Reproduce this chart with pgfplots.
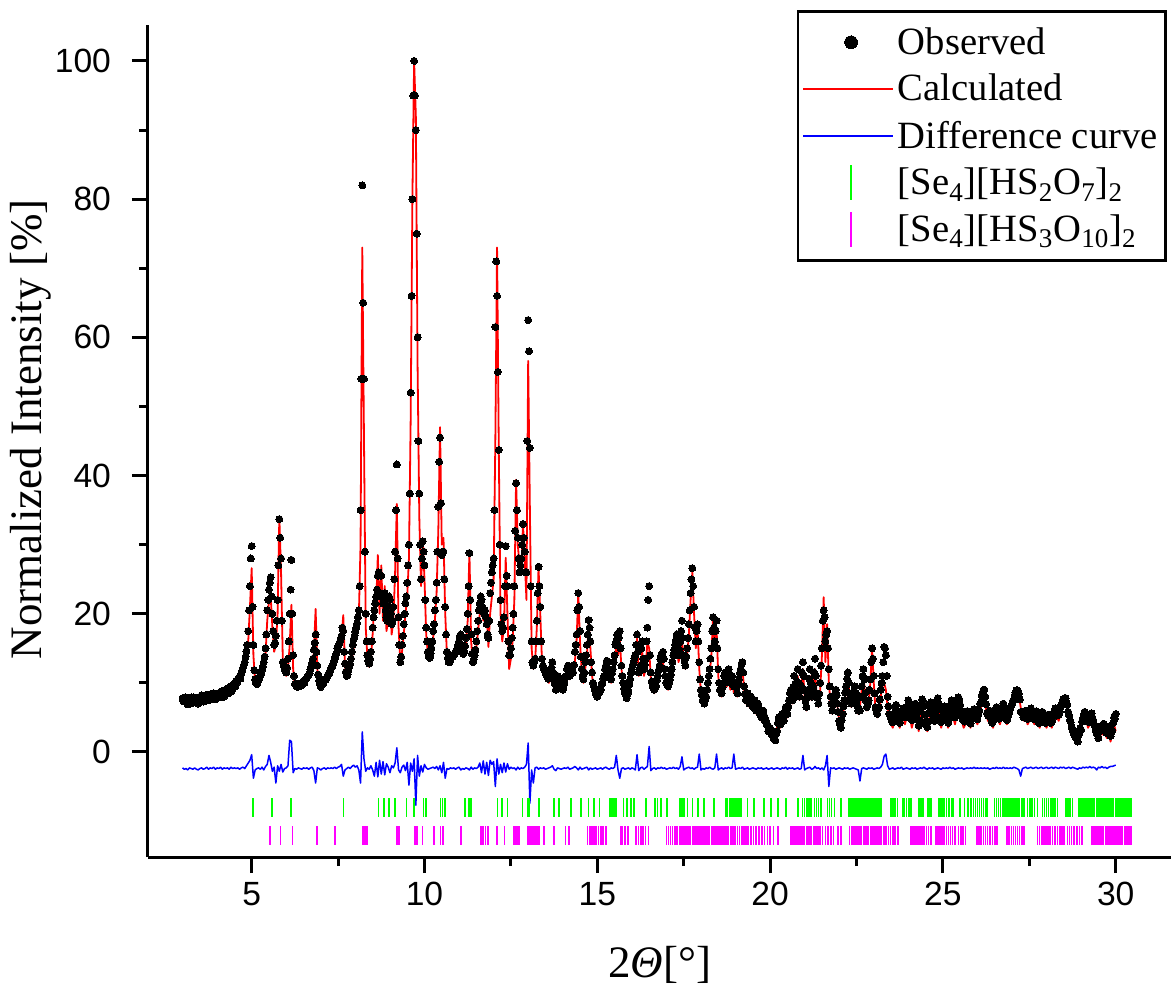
\documentclass[border=0pt]{standalone}
\usepackage{fontspec}
\setmainfont{Liberation Serif}
\newfontfamily\arialfont{Liberation Sans}
\usepackage{pgfplots}
\usepackage{pgfplotstable}
\pgfplotsset{compat=1.18}
\definecolor{phasegreen}{RGB}{0,255,0}
\definecolor{phasemag}{RGB}{255,0,255}

\pgfplotsset{
  dotlegend/.style={legend image code/.code={\draw[mark repeat=2, mark phase=2, ##1, mark size=3.2pt] plot coordinates {(0pt,0pt) (24pt,0pt) (48pt,0pt)};}},
  linelegend/.style={legend image code/.code={\draw[##1] (0pt,0pt) -- (45pt,0pt);}},
  barlegend/.style={legend image code/.code={\draw[mark repeat=2, mark phase=2, ##1, mark size=8.75pt] plot coordinates {(0pt,0pt) (24pt,0pt) (48pt,0pt)};}},
  obsdots/.style={only marks, mark=*, mark size=1.75pt, mark options={draw=black, fill=black, line width=0pt}},
}

% x = 2theta, c = calculated, o = observed, d = difference (offset)
\pgfplotstableread{
x c o d
3.00 7.0 7.8 -2.3
3.05 7.0 7.3 -2.5
3.10 7.1 7.7 -2.4
3.15 7.1 6.9 -2.6
3.20 7.2 7.6 -2.3
3.25 7.2 7.9 -2.4
3.30 7.3 7.1 -2.5
3.35 7.3 7.8 -2.3
3.40 7.4 7.5 -2.5
3.45 7.4 7.0 -2.6
3.50 7.5 7.9 -2.4
3.55 7.5 8.2 -2.3
3.60 7.6 7.3 -2.5
3.65 7.6 7.9 -2.4
3.70 7.7 8.3 -2.2
3.75 7.7 7.5 -2.5
3.80 7.8 8.2 -2.3
3.85 7.8 7.8 -2.4
3.90 7.9 8.5 -2.2
3.95 7.9 7.6 -2.5
4.00 8.0 8.4 -2.3
4.05 8.0 8.0 -2.4
4.10 8.0 8.7 -2.2
4.15 8.1 7.9 -2.5
4.20 8.2 8.9 -2.3
4.25 8.3 8.4 -2.4
4.30 8.5 9.2 -2.3
4.35 8.7 8.5 -2.5
4.40 8.9 9.5 -2.2
4.45 9.1 9.2 -2.4
4.50 9.4 9.9 -2.3
4.55 9.7 10.3 -2.4
4.60 10.0 10.5 -2.3
4.65 10.4 10.9 -2.5
4.70 10.9 11.4 -2.3
4.75 11.5 12.2 -2.2
4.80 12.3 13.0 -2.4
4.85 13.5 14.6 -2.0
4.90 16.0 17.5 -1.6
4.95 21.0 24.0 -1.2
5.00 26.6 29.8 -0.4
5.05 14.0 15.5 -3.8
5.10 10.0 10.5 -2.6
5.15 9.4 9.8 -2.4
5.20 9.8 10.4 -2.3
5.25 10.4 11.0 -2.5
5.30 11.2 11.9 -2.2
5.35 12.2 13.0 -2.6
5.40 14.0 15.0 -2.1
5.45 19.0 20.5 -1.8
5.50 21.8 23.5 -0.5
5.55 22.5 25.3 -1.5
5.60 18.0 20.0 -2.8
5.65 14.5 15.5 -2.2
5.70 15.5 16.8 -4.5
5.75 20.0 22.0 -2.0
5.80 34.0 33.7 -2.8
5.85 26.0 28.0 -1.8
5.90 13.5 13.0 -2.9
5.95 11.5 12.0 -2.4
6.00 11.0 11.5 -2.3
6.05 12.0 13.5 -2.0
6.10 15.5 20.0 1.7
6.15 21.3 27.8 1.5
6.20 12.0 14.0 -3.0
6.25 9.5 9.8 -2.4
6.30 9.3 9.5 -2.5
6.35 9.3 9.8 -2.3
6.40 9.4 9.9 -2.4
6.45 9.5 9.7 -2.5
6.50 9.7 10.3 -2.3
6.55 9.9 10.4 -2.4
6.60 10.2 10.8 -2.3
6.65 10.6 11.1 -2.5
6.70 11.2 11.9 -2.3
6.75 12.0 12.9 -2.2
6.80 14.5 14.8 -2.7
6.85 20.7 17.0 -4.5
6.90 12.0 12.5 -2.3
6.95 10.0 10.3 -2.4
7.00 9.6 9.4 -2.6
7.05 9.7 9.9 -2.4
7.10 9.9 10.4 -2.3
7.15 10.2 10.5 -2.5
7.20 10.6 11.1 -2.3
7.25 11.0 11.4 -2.4
7.30 11.5 12.1 -2.3
7.35 12.2 12.7 -2.4
7.40 12.8 13.6 -2.2
7.45 13.5 14.2 -2.4
7.50 14.5 15.3 -2.2
7.55 15.0 15.9 -2.1
7.60 16.5 16.8 -1.8
7.65 19.8 17.5 -3.5
7.70 12.5 12.8 -2.6
7.75 10.6 11.0 -2.4
7.80 11.0 11.8 -2.2
7.85 12.0 12.7 -2.4
7.90 13.5 14.5 -2.1
7.95 15.0 16.3 -1.9
8.00 16.5 17.4 -2.2
8.05 17.8 18.6 -2.0
8.10 19.5 20.5 -2.6
8.15 30.0 35.0 -4.5
8.20 73.0 82.0 2.9
8.25 45.0 54.0 -1.0
8.30 18.0 20.0 -2.8
8.35 13.5 14.0 -2.3
8.40 12.3 12.8 -2.5
8.45 13.5 14.5 -2.0
8.50 17.0 18.0 -2.6
8.55 22.0 20.5 -3.5
8.60 21.0 22.5 -1.5
8.65 28.5 25.5 -3.6
8.70 20.0 22.5 -1.2
8.75 27.0 25.5 -3.2
8.80 19.0 21.5 -1.4
8.85 24.0 23.0 -3.3
8.90 17.5 19.5 -1.7
8.95 19.0 21.0 -2.2
9.00 22.5 22.0 -3.0
9.05 17.0 18.5 -2.0
9.10 19.0 21.0 -2.3
9.15 26.0 29.0 -1.6
9.20 35.9 41.6 0.6
9.25 18.0 19.5 -2.6
9.30 13.2 13.0 -3.0
9.35 14.5 15.5 -2.2
9.40 17.0 18.5 -1.9
9.45 20.0 21.5 -2.7
9.50 22.5 24.5 -1.5
9.55 28.0 30.0 -4.8
9.60 48.0 52.0 -1.6
9.65 80.0 80.0 -2.8
9.70 100.0 100.0 -1.0
9.75 92.0 90.0 -7.7
9.80 56.0 60.0 -0.5
9.85 34.0 37.4 -3.5
9.90 24.0 25.0 -2.0
9.95 30.8 30.5 -2.9
10.00 25.0 27.0 -1.8
10.05 17.0 18.0 -2.3
10.10 14.0 14.5 -2.5
10.15 13.4 13.6 -2.4
10.20 14.5 15.0 -2.3
10.25 16.5 17.5 -2.2
10.30 19.0 20.5 -2.4
10.35 23.0 24.5 -2.1
10.40 32.0 35.5 -2.6
10.45 47.0 45.5 -2.0
10.50 30.0 28.5 -3.0
10.55 31.0 29.0 -1.5
10.60 20.0 21.0 -3.8
10.65 14.0 14.5 -2.4
10.70 13.2 13.0 -2.5
10.75 13.0 13.3 -2.3
10.80 13.2 13.8 -2.4
10.85 13.5 14.0 -2.3
10.90 13.8 14.5 -2.5
10.95 14.5 15.0 -2.3
11.00 15.5 16.0 -2.2
11.05 16.7 17.0 -2.6
11.10 14.0 14.8 -2.4
11.15 14.0 14.5 -2.5
11.20 15.5 16.5 -2.3
11.25 19.0 20.0 -2.4
11.30 28.9 28.8 -2.6
11.35 16.0 17.0 -2.2
11.40 12.8 13.0 -2.5
11.45 13.5 14.0 -2.3
11.50 15.0 16.0 -2.4
11.55 17.5 19.0 -2.2
11.60 20.0 21.5 -1.6
11.65 22.9 22.0 -3.0
11.70 19.0 20.5 -1.3
11.75 21.0 20.5 -3.2
11.80 19.7 18.5 -1.5
11.85 15.2 16.5 -3.4
11.90 20.0 23.0 -1.2
11.95 22.5 26.0 -1.8
12.00 25.0 28.0 -1.4
12.05 45.0 61.5 -5.0
12.10 73.0 66.0 -1.0
12.15 43.7 43.7 -3.2
12.20 20.0 22.0 -1.8
12.25 16.0 17.5 -3.0
12.30 18.0 19.5 -1.6
12.35 28.1 29.8 -2.9
12.40 20.0 24.0 -1.7
12.45 12.0 14.0 -2.5
12.50 13.5 15.0 -2.2
12.55 16.0 18.0 -2.4
12.60 22.0 24.0 -2.3
12.65 39.4 38.9 -2.6
12.70 30.0 31.0 -2.2
12.75 27.0 26.0 -2.5
12.80 26.0 28.0 -2.3
12.85 33.0 33.0 -2.4
12.90 28.0 29.0 -2.2
12.95 22.0 26.0 -1.8
13.00 56.6 62.5 1.3
13.05 35.0 44.0 -7.4
13.10 15.0 16.0 -2.6
13.15 12.0 12.5 -4.5
13.20 13.0 13.5 -2.3
13.25 18.0 19.0 -2.2
13.30 26.7 26.8 -2.5
13.35 20.0 21.0 -2.3
13.40 13.0 13.5 -2.4
13.45 11.5 12.0 -2.3
13.50 11.0 11.5 -2.5
13.55 10.5 11.0 -2.4
13.60 10.0 10.8 -2.3
13.65 10.5 11.3 -2.2
13.70 11.2 13.0 -2.0
13.75 9.8 10.5 -2.5
13.80 9.5 9.0 -2.7
13.85 10.5 11.0 -2.3
13.90 9.5 10.0 -2.4
13.95 9.0 9.3 -2.5
14.00 8.8 9.0 -2.4
14.05 9.5 10.0 -2.3
14.10 10.5 11.0 -2.4
14.15 11.5 12.5 -2.2
14.20 10.5 11.0 -2.5
14.25 11.8 12.0 -2.4
14.30 11.0 11.5 -2.3
14.35 13.0 14.5 -2.1
14.40 16.0 17.0 -2.3
14.45 23.0 23.0 -2.6
14.50 16.0 17.5 -2.2
14.55 11.5 12.0 -2.5
14.60 10.0 10.5 -2.4
14.65 12.0 13.0 -2.3
14.70 14.0 15.5 -2.2
14.75 19.0 19.1 -2.6
14.80 15.0 16.0 -2.3
14.85 11.0 11.5 -2.5
14.90 9.0 9.5 -2.4
14.95 8.2 8.5 -2.3
15.00 8.0 8.0 -2.5
15.05 8.3 8.5 -2.4
15.10 8.8 9.0 -2.3
15.15 9.5 10.0 -2.5
15.20 10.5 11.0 -2.3
15.25 11.5 12.5 -2.2
15.30 12.5 13.0 -2.4
15.35 11.0 11.5 -2.5
15.40 10.0 10.5 -2.3
15.45 11.0 12.0 -2.4
15.50 13.0 14.0 -2.2
15.55 15.5 16.0 -0.5
15.60 14.0 15.5 -2.6
15.65 16.5 17.5 -3.8
15.70 12.0 12.5 -2.4
15.75 9.5 10.0 -2.3
15.80 8.5 8.5 -2.5
15.85 8.0 7.8 -2.4
15.90 8.5 8.8 -2.3
15.95 10.0 10.5 -2.5
16.00 11.5 12.0 -2.3
16.05 12.5 13.0 -2.4
16.10 13.0 14.0 -2.6
16.15 16.4 17.0 -0.4
16.20 11.0 11.5 -2.7
16.25 12.0 12.5 -2.3
16.30 14.5 16.0 -2.2
16.35 11.0 12.0 -2.5
16.40 12.0 13.5 -2.3
16.45 16.0 18.0 -2.1
16.50 15.0 24.0 0.8
16.55 10.5 11.5 -2.7
16.60 9.0 9.5 -2.4
16.65 8.5 9.0 -2.3
16.70 9.0 9.5 -2.5
16.75 10.0 11.0 -2.3
16.80 11.5 12.5 -2.4
16.85 12.5 14.0 -2.2
16.90 13.0 14.5 -2.4
16.95 11.0 12.0 -2.3
17.00 9.5 10.0 -2.5
17.05 9.0 9.5 -2.4
17.10 9.5 10.5 -2.3
17.15 11.0 12.0 -2.4
17.20 13.0 14.0 -2.2
17.25 14.5 15.5 -2.4
17.30 16.0 17.0 -2.3
17.35 13.0 14.0 -2.5
17.40 14.0 16.0 -2.1
17.45 16.5 19.0 -0.7
17.50 13.0 14.0 -2.6
17.55 12.0 12.5 -2.4
17.60 14.0 15.0 -2.3
17.65 17.0 18.5 -2.2
17.70 22.0 23.0 -2.4
17.75 26.0 26.6 -2.3
17.80 20.0 21.0 -2.5
17.85 15.0 16.0 -2.3
17.90 18.0 18.5 -2.2
17.95 12.0 13.0 -0.3
18.00 8.5 9.0 -2.6
18.05 7.5 7.5 -2.4
18.10 7.0 7.0 -2.5
18.15 7.5 8.0 -2.3
18.20 9.0 10.0 -2.4
18.25 11.0 12.0 -2.2
18.30 14.0 15.0 -2.4
18.35 19.5 19.5 -2.5
18.40 15.0 16.0 -2.3
18.45 18.0 19.0 -0.3
18.50 11.0 12.0 -2.6
18.55 8.5 9.0 -2.4
18.60 8.0 8.5 -2.3
18.65 9.0 10.0 -2.5
18.70 10.5 11.5 -2.3
18.75 9.5 10.5 -2.4
18.80 11.0 12.0 -2.2
18.85 9.0 10.0 -2.4
18.90 10.5 11.0 -2.3
18.95 8.5 9.5 -0.3
19.00 9.5 10.0 -2.5
19.05 8.0 8.5 -2.4
19.10 9.5 10.5 -2.3
19.15 11.0 12.0 -2.4
19.20 12.0 13.0 -2.2
19.25 9.0 9.5 -2.5
19.30 7.0 7.5 -2.4
19.35 8.0 8.5 -2.3
19.40 6.5 7.0 -2.5
19.45 7.5 8.0 -2.4
19.50 6.0 6.5 -2.3
19.55 7.0 7.5 -2.4
19.60 5.5 6.0 -2.5
19.65 6.5 7.0 -2.3
19.70 5.0 5.5 -2.4
19.75 4.5 5.0 -2.3
19.80 5.5 6.0 -2.5
19.85 4.0 4.5 -2.4
19.90 4.5 4.0 -2.3
19.95 3.5 3.0 -2.5
20.00 3.0 3.5 -2.4
20.05 2.5 2.5 -2.3
20.10 2.8 2.0 -2.5
20.15 2.3 1.7 -2.4
20.20 3.5 3.0 -2.3
20.25 4.5 5.0 -2.4
20.30 3.5 4.0 -2.5
20.35 5.0 5.5 -2.3
20.40 4.5 4.5 -2.4
20.45 6.0 6.5 -2.2
20.50 5.0 5.5 -2.5
20.55 7.0 7.5 -2.3
20.60 8.5 9.0 -2.4
20.65 7.0 7.5 -2.3
20.70 10.0 11.0 -2.5
20.75 8.0 8.5 -2.4
20.80 11.0 12.0 -2.3
20.85 7.5 8.0 -2.5
20.90 9.0 9.5 -2.4
20.95 12.0 13.0 -0.5
21.00 8.0 9.0 -2.6
21.05 6.0 6.5 -2.4
21.10 8.5 9.0 -2.3
21.15 11.0 12.0 -2.2
21.20 7.5 8.0 -2.5
21.25 9.0 9.5 -2.4
21.30 12.0 13.5 -2.1
21.35 8.0 8.5 -2.4
21.40 6.5 7.0 -2.3
21.45 9.0 10.0 -2.5
21.50 14.0 15.0 -2.3
21.55 22.4 20.5 -2.6
21.60 13.0 16.0 -2.0
21.65 18.5 17.5 -0.5
21.70 10.0 12.0 -5.0
21.75 7.0 8.0 -2.3
21.80 5.5 6.0 -2.4
21.85 7.0 7.5 -2.3
21.90 8.5 9.0 -2.5
21.95 6.5 7.0 -2.4
22.00 4.5 4.5 -2.3
22.05 3.5 3.5 -2.4
22.10 5.0 5.5 -2.5
22.15 7.0 7.5 -2.3
22.20 9.0 9.5 -2.4
22.25 11.0 11.5 -2.3
22.30 8.0 8.5 -2.5
22.35 6.5 7.0 -2.4
22.40 7.5 8.0 -2.3
22.45 9.0 9.5 -2.4
22.50 7.0 7.5 -2.5
22.55 5.5 6.0 -2.6
22.60 6.5 6.0 -4.2
22.65 9.0 9.5 -2.4
22.70 11.5 12.0 -2.3
22.75 8.0 8.5 -2.4
22.80 6.0 6.5 -2.5
22.85 7.0 7.5 -2.3
22.90 10.0 10.5 -2.4
22.95 15.0 15.0 -2.3
23.00 10.0 11.0 -2.5
23.05 6.0 6.5 -2.4
23.10 5.0 5.5 -2.3
23.15 6.0 6.5 -2.4
23.20 8.0 9.0 -2.2
23.25 9.5 11.0 -1.8
23.30 10.0 15.2 -0.6
23.35 9.0 14.0 -0.3
23.40 6.5 8.0 -2.0
23.45 5.0 5.5 -2.5
23.50 4.0 4.8 -2.4
23.55 3.5 4.3 -2.3
23.60 4.5 5.6 -2.5
23.65 6.0 6.8 -2.4
23.70 4.5 5.5 -2.3
23.75 3.5 4.2 -2.4
23.80 4.5 5.6 -2.2
23.85 5.5 6.3 -2.5
23.90 4.0 5.0 -2.4
23.95 5.0 5.4 -2.3
24.00 6.5 7.5 -2.4
24.05 5.0 5.8 -2.5
24.10 3.5 4.6 -2.3
24.15 4.5 5.1 -2.4
24.20 6.0 7.0 -2.3
24.25 4.5 5.6 -2.5
24.30 3.0 3.8 -2.4
24.35 5.0 6.0 -2.3
24.40 7.0 7.6 -2.4
24.45 5.5 6.6 -2.2
24.50 3.5 4.4 -2.4
24.55 3.0 3.6 -2.5
24.60 4.5 5.6 -2.3
24.65 6.5 7.2 -2.4
24.70 5.0 6.0 -2.3
24.75 4.0 4.5 -2.5
24.80 5.5 6.5 -2.4
24.85 7.0 7.8 -2.3
24.90 5.0 6.2 -2.4
24.95 3.5 4.3 -2.5
25.00 4.5 5.4 -2.3
25.05 6.0 6.6 -2.4
25.10 4.5 5.7 -2.3
25.15 3.5 4.2 -2.4
25.20 5.0 5.8 -2.2
25.25 6.5 7.5 -2.4
25.30 5.0 5.6 -2.3
25.35 4.0 5.0 -2.5
25.40 5.5 6.1 -2.4
25.45 7.0 7.9 -2.3
25.50 6.0 6.8 -2.4
25.55 4.5 5.3 -2.3
25.60 3.5 4.5 -2.5
25.65 4.0 4.6 -2.4
25.70 5.0 5.9 -2.3
25.75 4.0 4.8 -2.4
25.80 3.5 4.1 -2.3
25.85 4.5 5.5 -2.4
25.90 5.5 6.2 -2.2
25.95 4.5 5.4 -2.4
26.00 4.0 4.7 -2.3
26.05 5.0 6.0 -2.4
26.10 6.5 7.2 -2.3
26.15 8.0 8.6 -2.4
26.20 8.5 9.0 -2.3
26.25 6.0 6.9 -2.4
26.30 4.5 5.3 -2.3
26.35 5.0 6.0 -2.5
26.40 4.0 4.8 -2.4
26.45 3.5 4.4 -2.3
26.50 4.5 5.2 -2.4
26.55 5.5 6.5 -2.2
26.60 4.5 5.3 -2.4
26.65 4.0 5.0 -2.3
26.70 5.0 5.6 -2.4
26.75 6.0 7.0 -2.2
26.80 5.0 5.9 -2.4
26.85 4.0 4.6 -2.3
26.90 4.5 5.5 -2.4
26.95 5.5 6.3 -2.3
27.00 6.0 6.9 -2.4
27.05 7.0 7.6 -2.2
27.10 8.0 8.6 -2.3
27.15 8.5 8.9 -2.4
27.20 8.0 8.4 -2.6
27.25 6.5 5.8 -3.5
27.30 5.0 5.8 -2.4
27.35 4.5 5.2 -2.3
27.40 5.0 6.0 -2.2
27.45 4.0 4.8 -2.4
27.50 4.5 5.5 -2.3
27.55 5.5 6.3 -2.2
27.60 4.5 5.4 -2.4
27.65 4.0 4.7 -2.3
27.70 5.0 5.9 -2.2
27.75 4.0 4.9 -2.4
27.80 3.5 4.2 -2.3
27.85 4.5 5.5 -2.2
27.90 5.0 5.7 -2.4
27.95 4.0 5.0 -2.3
28.00 3.5 4.3 -2.2
28.05 4.5 5.4 -2.4
28.10 4.0 4.6 -2.3
28.15 3.5 4.4 -2.2
28.20 4.5 5.3 -2.4
28.25 5.5 6.3 -2.2
28.30 5.0 5.8 -2.3
28.35 4.5 5.4 -2.4
28.40 5.5 6.4 -2.2
28.45 6.5 7.1 -2.3
28.50 7.0 7.4 -2.2
28.55 7.5 7.8 -2.4
28.60 6.0 6.8 -2.3
28.65 4.5 5.3 -2.2
28.70 3.5 4.3 -2.4
28.75 2.5 3.3 -2.2
28.80 2.0 2.7 -2.3
28.85 1.5 2.2 -2.4
28.90 1.8 1.5 -2.5
28.95 2.5 2.8 -2.3
29.00 3.5 3.2 -2.4
29.05 4.5 4.9 -2.2
29.10 5.0 5.8 -2.3
29.15 4.5 5.2 -2.2
29.20 3.5 4.4 -2.3
29.25 4.0 4.8 -2.1
29.30 5.0 5.6 -2.3
29.35 4.0 4.6 -2.2
29.40 3.0 3.7 -2.3
29.45 2.0 2.6 -2.6
29.50 2.5 2.0 -2.2
29.55 3.0 3.7 -2.3
29.60 2.5 3.2 -2.1
29.65 3.5 4.1 -2.3
29.70 2.5 3.3 -2.2
29.75 2.0 2.7 -2.4
29.80 3.0 3.6 -2.2
29.85 1.5 2.3 -2.1
29.90 2.5 3.1 -2.1
29.95 4.0 5.0 -2.0
30.00 3.0 5.5 -1.9
}\xrddata

% observed points measured between the rows above
\pgfplotstableread{
x o
3.025 7.4
3.075 7.9
3.125 7.2
3.175 7.7
3.225 7.0
3.275 7.6
3.325 7.9
3.375 7.2
3.425 7.8
3.475 7.5
3.525 7.3
3.575 7.9
3.625 7.7
3.675 7.4
3.725 8.0
3.775 7.8
3.825 8.4
3.875 7.6
3.925 8.1
3.975 8.3
4.025 7.9
4.075 8.5
4.125 8.2
4.175 8.6
4.225 8.1
4.275 8.8
4.325 8.9
4.375 9.1
4.425 8.8
4.475 9.6
4.525 9.5
4.575 10.0
4.625 10.7
4.675 10.6
4.725 11.8
4.775 12.6
4.825 13.8
4.875 15.5
4.925 20.5
4.975 28.0
5.025 21.0
5.075 11.8
5.125 10.0
5.175 10.1
5.225 10.7
5.275 11.3
5.325 12.4
5.375 13.8
5.425 17.0
5.475 22.0
5.525 24.5
5.575 22.5
5.625 17.5
5.675 15.8
5.725 19.0
5.775 27.0
5.825 31.0
5.875 19.0
5.925 12.5
5.975 11.8
6.025 12.2
6.075 16.0
6.125 23.5
6.175 20.0
6.225 11.0
6.275 9.9
6.325 9.4
6.375 9.9
6.425 9.6
6.475 10.1
6.525 10.0
6.575 10.6
6.625 11.0
6.675 11.4
6.725 12.3
6.775 13.5
6.825 15.8
6.875 14.5
6.925 11.2
6.975 9.8
7.025 9.9
7.075 10.0
7.125 10.5
7.175 10.8
7.225 11.3
7.275 11.8
7.325 12.3
7.375 13.1
7.425 13.8
7.475 15.0
7.525 15.5
7.575 16.4
7.625 18.0
7.675 14.5
7.725 11.6
7.775 11.2
7.825 12.3
7.875 13.5
7.925 15.5
7.975 16.8
8.025 18.0
8.075 19.5
8.125 24.0
8.175 54.0
8.225 65.0
8.275 29.0
8.325 16.0
8.375 13.2
8.425 13.5
8.475 16.0
8.525 19.5
8.575 21.5
8.625 23.5
8.675 26.0
8.725 23.0
8.775 22.5
8.825 22.0
8.875 20.5
8.925 19.0
8.975 22.5
9.025 20.0
9.075 19.0
9.125 25.0
9.175 35.0
9.225 28.0
9.275 15.5
9.325 13.8
9.375 16.8
9.425 20.0
9.475 22.5
9.525 27.0
9.575 37.4
9.625 66.0
9.675 95.0
9.725 95.0
9.775 75.0
9.825 45.0
9.875 30.0
9.925 28.0
9.975 29.0
10.025 22.0
10.075 16.0
10.125 13.8
10.175 14.2
10.225 16.0
10.275 18.5
10.325 22.0
10.375 29.0
10.425 42.0
10.475 36.0
10.525 29.0
10.575 25.0
10.625 17.0
10.675 13.6
10.725 13.0
10.775 13.6
10.825 13.8
10.875 14.3
10.925 14.6
10.975 15.5
11.025 16.8
11.075 15.5
11.125 14.2
11.175 15.3
11.225 17.8
11.275 24.0
11.325 22.0
11.375 14.2
11.425 13.4
11.475 14.8
11.525 17.5
11.575 20.5
11.625 22.5
11.675 21.0
11.725 20.0
11.775 19.5
11.825 17.0
11.875 19.0
11.925 24.5
11.975 27.0
12.025 35.0
12.075 71.0
12.125 55.0
12.175 30.0
12.225 18.5
12.275 18.0
12.325 24.0
12.375 25.5
12.425 16.0
12.475 14.0
12.525 16.5
12.575 20.0
12.625 32.0
12.675 35.0
12.725 28.0
12.775 27.0
12.825 30.0
12.875 31.0
12.925 26.0
12.975 45.0
13.025 58.0
13.075 24.0
13.125 13.0
13.175 13.0
13.225 16.0
13.275 23.0
13.325 24.0
13.375 16.0
13.425 12.5
13.475 11.8
13.525 11.2
13.575 10.6
13.625 11.0
13.675 12.2
13.725 11.5
13.775 9.8
13.825 10.4
13.875 10.5
13.925 9.6
13.975 9.4
14.025 9.6
14.075 10.8
14.125 12.0
14.175 11.4
14.225 11.5
14.275 12.0
14.325 12.6
14.375 15.5
14.425 20.5
14.475 21.0
14.525 13.8
14.575 11.0
14.625 11.5
14.675 14.0
14.725 17.0
14.775 18.0
14.825 13.0
14.875 10.0
14.925 9.0
14.975 8.4
15.025 8.6
15.075 9.0
15.125 9.8
15.175 10.6
15.225 12.0
15.275 13.2
15.325 12.0
15.375 10.8
15.425 11.4
15.475 13.0
15.525 15.5
15.575 17.0
15.625 16.5
15.675 15.0
15.725 11.0
15.775 9.2
15.825 8.3
15.875 8.4
15.925 9.8
15.975 11.4
16.025 12.6
16.075 13.5
16.125 15.5
16.175 14.5
16.225 12.0
16.275 15.0
16.325 13.5
16.375 12.6
16.425 16.0
16.475 22.0
16.525 14.0
16.575 10.2
16.625 9.2
16.675 9.4
16.725 10.4
16.775 11.8
16.825 13.4
16.875 14.2
16.925 13.5
16.975 11.0
17.025 9.8
17.075 10.0
17.125 11.2
17.175 13.0
17.225 14.8
17.275 16.2
17.325 15.5
17.375 14.8
17.425 17.5
17.475 16.5
17.525 13.2
17.575 13.8
17.625 16.5
17.675 20.5
17.725 25.0
17.775 24.0
17.825 18.0
17.875 17.5
17.925 16.0
17.975 10.5
18.025 8.3
18.075 7.4
18.125 7.6
18.175 9.0
18.225 11.0
18.275 13.5
18.325 17.5
18.375 18.0
18.425 17.5
18.475 15.0
18.525 10.0
18.575 8.8
18.625 9.4
18.675 11.0
18.725 11.2
18.775 11.4
18.825 11.0
18.875 10.8
18.925 10.2
18.975 10.0
19.025 9.4
19.075 9.8
19.125 11.4
19.175 12.8
19.225 11.5
19.275 8.4
19.325 8.2
19.375 7.8
19.425 7.6
19.475 7.2
19.525 7.1
19.575 6.8
19.625 6.6
19.675 6.3
19.725 5.4
19.775 5.6
19.825 5.3
19.875 4.6
19.925 3.9
19.975 3.4
20.025 3.0
20.075 2.6
20.125 2.2
20.175 2.6
20.225 4.2
20.275 4.6
20.325 4.8
20.375 5.2
20.425 5.8
20.475 6.0
20.525 6.6
20.575 8.5
20.625 8.4
20.675 9.4
20.725 9.8
20.775 10.2
20.825 10.0
20.875 8.8
20.925 11.5
20.975 11.0
21.025 7.4
21.075 8.0
21.125 10.6
21.175 10.0
21.225 8.8
21.275 11.5
21.325 11.0
21.375 7.8
21.425 8.4
21.475 12.5
21.525 19.0
21.575 19.5
21.625 17.0
21.675 15.0
21.725 9.5
21.775 7.0
21.825 6.8
21.875 8.4
21.925 8.2
21.975 5.8
22.025 4.0
22.075 4.6
22.125 6.6
22.175 8.6
22.225 10.6
22.275 10.0
22.325 7.8
22.375 7.6
22.425 8.8
22.475 8.6
22.525 6.6
22.575 6.2
22.625 8.0
22.675 11.0
22.725 10.5
22.775 7.4
22.825 7.0
22.875 9.0
22.925 13.0
22.975 13.5
23.025 8.5
23.075 6.0
23.125 6.2
23.175 7.6
23.225 10.0
23.275 13.0
23.325 15.0
23.375 11.0
23.425 6.6
23.475 5.2
23.525 4.4
23.575 5.0
23.625 6.4
23.675 5.9
23.725 4.6
23.775 5.0
23.825 6.0
23.875 5.6
23.925 5.0
23.975 6.6
24.025 6.6
24.075 5.0
24.125 4.8
24.175 6.2
24.225 6.2
24.275 4.6
24.325 4.6
24.375 6.8
24.425 7.4
24.475 5.4
24.525 4.0
24.575 4.4
24.625 6.6
24.675 6.6
24.725 5.2
24.775 5.6
24.825 7.2
24.875 7.0
24.925 5.0
24.975 4.6
25.025 6.0
25.075 6.2
25.125 4.8
25.175 4.8
25.225 6.8
25.275 6.6
25.325 5.0
25.375 5.4
25.425 7.2
25.475 7.6
25.525 6.0
25.575 4.6
25.625 4.4
25.675 5.4
25.725 5.4
25.775 4.2
25.825 4.8
25.875 6.0
25.925 5.8
25.975 4.8
26.025 5.4
26.075 7.0
26.125 8.2
26.175 9.0
26.225 8.0
26.275 5.6
26.325 5.6
26.375 5.4
26.425 4.2
26.475 4.8
26.525 6.0
26.575 5.8
26.625 4.8
26.675 5.4
26.725 6.6
26.775 6.2
26.825 4.8
26.875 5.0
26.925 6.0
26.975 6.6
27.025 7.4
27.075 8.2
27.125 8.9
27.175 8.8
27.225 7.6
27.275 5.8
27.325 5.0
27.375 5.6
27.425 5.2
27.475 5.0
27.525 6.0
27.575 5.8
27.625 4.8
27.675 5.4
27.725 5.2
27.775 4.2
27.825 4.8
27.875 5.8
27.925 5.2
27.975 4.2
28.025 4.8
28.075 5.0
28.125 4.2
28.175 4.8
28.225 5.8
28.275 6.0
28.325 5.4
28.375 5.8
28.425 6.8
28.475 7.6
28.525 7.8
28.575 7.2
28.625 5.8
28.675 4.6
28.725 3.6
28.775 2.8
28.825 2.2
28.875 1.9
28.925 2.4
28.975 3.4
29.025 4.4
29.075 5.4
29.125 5.4
29.175 4.6
29.225 4.4
29.275 5.2
29.325 5.0
29.375 4.0
29.425 3.0
29.475 2.6
29.525 3.2
29.575 3.4
29.625 3.6
29.675 3.6
29.725 2.8
29.775 3.2
29.825 2.8
29.875 2.8
29.925 4.2
29.975 4.8
}\obsmid

\begin{document}
\begin{tikzpicture}
\begin{axis}[
  name=ax,
  scale only axis, width=511.5pt, height=416pt,
  xmin=2, xmax=31.6, ymin=-15.2, ymax=105.2,
  axis x line*=bottom, axis y line*=left,
  axis line style={line width=1.5pt},
  xtick={5,10,...,30}, ytick={0,20,...,100},
  minor x tick num=1, minor y tick num=1,
  tick align=outside,
  major tick length=8pt, minor tick length=4.5pt,
  every tick/.style={black, line width=1.5pt},
  tick label style={font=\arialfont\fontsize{16.8}{20}\selectfont},
  yticklabel style={xshift=-7pt},
  xticklabel style={yshift=-1pt},
  /pgf/number format/assume math mode=true,
  xlabel={2\textit{Θ}[°]},
  ylabel={Normalized Intensity [\%]},
  every axis x label/.style={at={(axis description cs:0.5,-0.13)}, anchor=center,
    font=\fontsize{22.5}{26}\selectfont},
  every axis y label/.style={at={(axis description cs:-0.115,0.514)}, anchor=center, rotate=90,
    font=\fontsize{22.5}{26}\selectfont},
  legend style={at={(0.996,1.018)}, anchor=north east, draw=black, line width=1.3pt,
    font=\fontsize{19.3}{22}\selectfont, inner xsep=2pt, inner ysep=6pt, row sep=4.5pt},
  legend cell align=left,
]
\addplot[obsdots, dotlegend] table[x=x, y=o] {\xrddata};
\addlegendentry{Observed}
\addplot[obsdots, forget plot] table[x=x, y=o] {\obsmid};
\addplot[red, line width=0.9pt, line join=round, linelegend]
  table[x=x, y=c] {\xrddata};
\addlegendentry{Calculated}
\addplot[blue, line width=0.75pt, line join=round, linelegend]
  table[x=x, y=d] {\xrddata};
\addlegendentry{Difference curve}
\addplot[only marks, mark=|, mark size=4.75pt, color=phasegreen, mark options={line width=0.8pt}, barlegend]
  coordinates {
(5.03,-8.1) (5.58,-8.1) (6.13,-8.1) (7.66,-8.1) (8.67,-8.1) (8.82,-8.1) (8.98,-8.1) (9.15,-8.1)
(9.48,-8.1) (9.70,-8.1) (9.97,-8.1) (10.04,-8.1) (10.46,-8.1) (10.52,-8.1) (10.60,-8.1) (11.18,-8.1)
(11.28,-8.1) (11.34,-8.1) (12.11,-8.1) (12.24,-8.1) (12.40,-8.1) (12.84,-8.1) (12.98,-8.1) (13.03,-8.1)
(13.32,-8.1) (13.75,-8.1) (13.90,-8.1) (14.24,-8.1) (14.53,-8.1) (14.74,-8.1) (14.91,-8.1) (15.06,-8.1)
(15.35,-8.1) (15.40,-8.1) (15.45,-8.1) (15.50,-8.1) (15.54,-8.1) (15.76,-8.1) (15.86,-8.1) (15.97,-8.1)
(16.07,-8.1) (16.41,-8.1) (16.67,-8.1) (16.74,-8.1) (16.84,-8.1) (17.01,-8.1) (17.40,-8.1) (17.45,-8.1)
(17.50,-8.1) (17.61,-8.1) (17.76,-8.1) (17.92,-8.1) (18.09,-8.1) (18.38,-8.1) (18.72,-8.1) (18.77,-8.1)
(18.82,-8.1) (18.87,-8.1) (18.93,-8.1) (18.98,-8.1) (19.04,-8.1) (19.10,-8.1) (19.16,-8.1) (19.35,-8.1)
(19.54,-8.1) (19.83,-8.1) (20.02,-8.1) (20.22,-8.1) (20.46,-8.1) (20.80,-8.1) (20.94,-8.1) (21.00,-8.1)
(21.06,-8.1) (21.12,-8.1) (21.18,-8.1) (21.28,-8.1) (21.34,-8.1) (21.40,-8.1) (21.47,-8.1) (21.66,-8.1)
(21.72,-8.1) (21.78,-8.1) (21.86,-8.1) (22.05,-8.1) (22.29,-8.1) (22.33,-8.1) (22.37,-8.1) (22.41,-8.1)
(22.45,-8.1) (22.49,-8.1) (22.53,-8.1) (22.57,-8.1) (22.61,-8.1) (22.65,-8.1) (22.69,-8.1) (22.73,-8.1)
(22.77,-8.1) (22.81,-8.1) (22.85,-8.1) (22.89,-8.1) (22.93,-8.1) (22.97,-8.1) (23.01,-8.1) (23.05,-8.1)
(23.09,-8.1) (23.13,-8.1) (23.17,-8.1) (23.21,-8.1) (23.50,-8.1) (23.56,-8.1) (23.62,-8.1) (23.69,-8.1)
(23.83,-8.1) (23.88,-8.1) (23.95,-8.1) (24.02,-8.1) (24.07,-8.1) (24.30,-8.1) (24.36,-8.1) (24.42,-8.1)
(24.55,-8.1) (24.60,-8.1) (24.65,-8.1) (24.88,-8.1) (24.93,-8.1) (24.98,-8.1) (25.03,-8.1) (25.10,-8.1)
(25.18,-8.1) (25.25,-8.1) (25.30,-8.1) (25.50,-8.1) (25.62,-8.1) (25.72,-8.1) (25.82,-8.1) (25.88,-8.1)
(25.94,-8.1) (26.00,-8.1) (26.06,-8.1) (26.12,-8.1) (26.18,-8.1) (26.24,-8.1) (26.29,-8.1) (26.49,-8.1)
(26.55,-8.1) (26.61,-8.1) (26.67,-8.1) (26.73,-8.1) (26.79,-8.1) (26.85,-8.1) (26.91,-8.1) (26.97,-8.1)
(27.03,-8.1) (27.09,-8.1) (27.15,-8.1) (27.21,-8.1) (27.28,-8.1) (27.35,-8.1) (27.45,-8.1) (27.52,-8.1)
(27.58,-8.1) (27.65,-8.1) (27.74,-8.1) (27.88,-8.1) (27.94,-8.1) (28.00,-8.1) (28.06,-8.1) (28.12,-8.1)
(28.18,-8.1) (28.24,-8.1) (28.32,-8.1) (28.56,-8.1) (28.62,-8.1) (28.68,-8.1) (28.75,-8.1) (28.94,-8.1)
(28.99,-8.1) (29.04,-8.1) (29.09,-8.1) (29.14,-8.1) (29.19,-8.1) (29.24,-8.1) (29.29,-8.1) (29.34,-8.1)
(29.39,-8.1) (29.44,-8.1) (29.49,-8.1) (29.54,-8.1) (29.59,-8.1) (29.64,-8.1) (29.69,-8.1) (29.74,-8.1)
(29.79,-8.1) (29.84,-8.1) (29.89,-8.1) (29.94,-8.1) (29.99,-8.1) (30.04,-8.1) (30.09,-8.1) (30.14,-8.1)
(30.19,-8.1) (30.24,-8.1) (30.29,-8.1) (30.34,-8.1) (30.39,-8.1) (30.44,-8.1)
  };
\addlegendentry{[Se\textsubscript{4}][HS\textsubscript{2}O\textsubscript{7}]\textsubscript{2}}
\addplot[only marks, mark=|, mark size=4.75pt, color=phasemag, mark options={line width=0.8pt}, barlegend]
  coordinates {
(5.53,-12.1) (5.83,-12.1) (6.18,-12.1) (6.89,-12.1) (7.41,-12.1) (8.21,-12.1) (8.25,-12.1) (8.29,-12.1)
(8.33,-12.1) (9.20,-12.1) (9.24,-12.1) (9.28,-12.1) (9.72,-12.1) (9.78,-12.1) (9.94,-12.1) (10.28,-12.1)
(10.46,-12.1) (10.53,-12.1) (11.05,-12.1) (11.63,-12.1) (11.67,-12.1) (11.71,-12.1) (11.76,-12.1) (11.83,-12.1)
(12.10,-12.1) (12.31,-12.1) (12.58,-12.1) (12.62,-12.1) (12.66,-12.1) (12.70,-12.1) (12.74,-12.1) (13.00,-12.1)
(13.04,-12.1) (13.08,-12.1) (13.12,-12.1) (13.17,-12.1) (13.22,-12.1) (13.27,-12.1) (13.32,-12.1) (13.46,-12.1)
(13.75,-12.1) (14.08,-12.1) (14.18,-12.1) (14.72,-12.1) (14.77,-12.1) (14.82,-12.1) (14.87,-12.1) (14.92,-12.1)
(14.97,-12.1) (15.03,-12.1) (15.10,-12.1) (15.17,-12.1) (15.25,-12.1) (15.68,-12.1) (15.73,-12.1) (15.80,-12.1)
(15.88,-12.1) (16.12,-12.1) (16.19,-12.1) (16.26,-12.1) (16.33,-12.1) (16.40,-12.1) (16.48,-12.1) (17.00,-12.1)
(17.06,-12.1) (17.12,-12.1) (17.18,-12.1) (17.25,-12.1) (17.31,-12.1) (17.40,-12.1) (17.45,-12.1) (17.50,-12.1)
(17.55,-12.1) (17.60,-12.1) (17.65,-12.1) (17.70,-12.1) (17.75,-12.1) (17.80,-12.1) (17.85,-12.1) (17.90,-12.1)
(17.95,-12.1) (18.00,-12.1) (18.05,-12.1) (18.10,-12.1) (18.15,-12.1) (18.20,-12.1) (18.25,-12.1) (18.30,-12.1)
(18.35,-12.1) (18.40,-12.1) (18.45,-12.1) (18.50,-12.1) (18.55,-12.1) (18.60,-12.1) (18.65,-12.1) (18.70,-12.1)
(18.75,-12.1) (18.80,-12.1) (18.85,-12.1) (18.90,-12.1) (18.95,-12.1) (19.00,-12.1) (19.06,-12.1) (19.12,-12.1)
(19.18,-12.1) (19.24,-12.1) (19.30,-12.1) (19.36,-12.1) (19.44,-12.1) (19.52,-12.1) (19.60,-12.1) (19.68,-12.1)
(19.76,-12.1) (19.84,-12.1) (19.92,-12.1) (20.00,-12.1) (20.10,-12.1) (20.22,-12.1) (20.60,-12.1) (20.65,-12.1)
(20.70,-12.1) (20.75,-12.1) (20.80,-12.1) (20.85,-12.1) (20.90,-12.1) (20.95,-12.1) (21.00,-12.1) (21.05,-12.1)
(21.10,-12.1) (21.15,-12.1) (21.20,-12.1) (21.25,-12.1) (21.30,-12.1) (21.35,-12.1) (21.40,-12.1) (21.45,-12.1)
(21.52,-12.1) (21.60,-12.1) (21.68,-12.1) (21.76,-12.1) (21.84,-12.1) (21.96,-12.1) (22.05,-12.1) (22.30,-12.1)
(22.35,-12.1) (22.40,-12.1) (22.45,-12.1) (22.50,-12.1) (22.55,-12.1) (22.60,-12.1) (22.65,-12.1) (22.70,-12.1)
(22.75,-12.1) (22.80,-12.1) (22.85,-12.1) (22.90,-12.1) (22.95,-12.1) (23.00,-12.1) (23.05,-12.1) (23.10,-12.1)
(23.15,-12.1) (23.20,-12.1) (23.30,-12.1) (23.36,-12.1) (23.42,-12.1) (23.48,-12.1) (23.55,-12.1) (23.62,-12.1)
(23.70,-12.1) (24.07,-12.1) (24.12,-12.1) (24.17,-12.1) (24.22,-12.1) (24.28,-12.1) (24.34,-12.1) (24.40,-12.1)
(24.46,-12.1) (24.52,-12.1) (24.58,-12.1) (24.65,-12.1) (24.80,-12.1) (24.86,-12.1) (24.92,-12.1) (24.98,-12.1)
(25.04,-12.1) (25.10,-12.1) (25.16,-12.1) (25.22,-12.1) (25.28,-12.1) (25.35,-12.1) (25.45,-12.1) (25.52,-12.1)
(25.58,-12.1) (25.65,-12.1) (25.99,-12.1) (26.05,-12.1) (26.11,-12.1) (26.17,-12.1) (26.23,-12.1) (26.29,-12.1)
(26.36,-12.1) (26.43,-12.1) (26.50,-12.1) (26.57,-12.1) (26.86,-12.1) (26.92,-12.1) (26.98,-12.1) (27.04,-12.1)
(27.10,-12.1) (27.16,-12.1) (27.22,-12.1) (27.28,-12.1) (27.35,-12.1) (27.74,-12.1) (27.80,-12.1) (27.86,-12.1)
(27.92,-12.1) (27.98,-12.1) (28.04,-12.1) (28.10,-12.1) (28.17,-12.1) (28.24,-12.1) (28.31,-12.1) (28.38,-12.1)
(28.45,-12.1) (28.51,-12.1) (28.60,-12.1) (28.66,-12.1) (28.72,-12.1) (28.80,-12.1) (28.88,-12.1) (28.95,-12.1)
(29.02,-12.1) (29.30,-12.1) (29.35,-12.1) (29.40,-12.1) (29.45,-12.1) (29.50,-12.1) (29.55,-12.1) (29.60,-12.1)
(29.65,-12.1) (29.70,-12.1) (29.75,-12.1) (29.80,-12.1) (29.85,-12.1) (29.90,-12.1) (29.95,-12.1) (30.00,-12.1)
(30.05,-12.1) (30.10,-12.1) (30.15,-12.1) (30.20,-12.1) (30.25,-12.1) (30.30,-12.1) (30.35,-12.1) (30.40,-12.1)
(30.44,-12.1)
  };
\addlegendentry{[Se\textsubscript{4}][HS\textsubscript{3}O\textsubscript{10}]\textsubscript{2}}
\end{axis}
\pgfresetboundingbox
\path ([shift={(-74pt,-66.5pt)}]ax.south west) rectangle ([shift={(0pt,12.5pt)}]ax.north east);
\end{tikzpicture}
\end{document}
